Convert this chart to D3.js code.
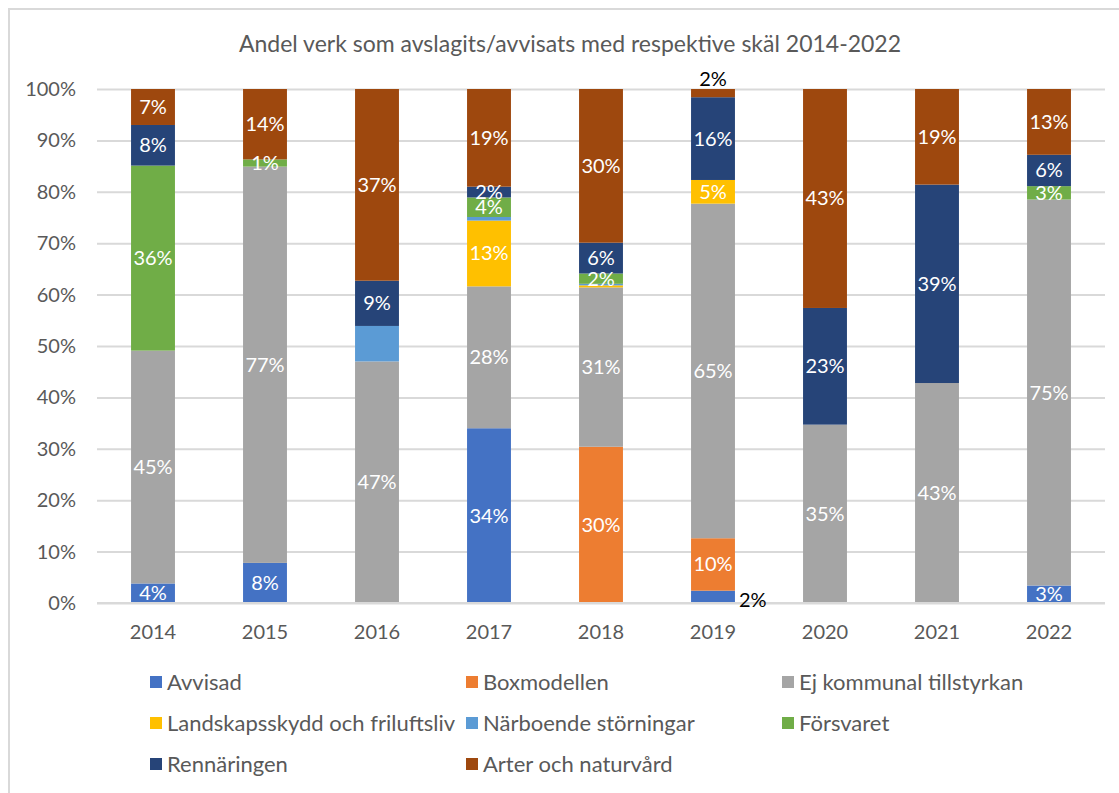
<!DOCTYPE html>
<html lang="sv">
<head>
<meta charset="UTF-8">
<title>Andel verk som avslagits/avvisats</title>
<script src="https://cdn.jsdelivr.net/npm/d3@7"></script>
<style>
  body { margin: 0; background: #fff; }
  text { font-family: Lato, "Open Sans", sans-serif; }
</style>
</head>
<body>
<script>
// years on the x axis
var years = ["2014","2015","2016","2017","2018","2019","2020","2021","2022"];

// series, share in percent per year
var seriesNames = ["Avvisad","Boxmodellen","Ej kommunal tillstyrkan","Landskapsskydd och friluftsliv",
                   "Närboende störningar","Försvaret","Rennäringen","Arter och naturvård"];
var avvisad     = [3.8, 7.8, 0, 34.0, 0, 2.4, 0, 0, 3.4];
var boxmodellen = [0, 0, 0, 0, 30.4, 10.2, 0, 0, 0];
var ejKommunal  = [45.3, 77.1, 47.0, 27.6, 31.0, 65.1, 34.7, 42.8, 75.1];
var landskap    = [0, 0, 0, 12.8, 0.4, 4.6, 0, 0, 0];
var narboende   = [0, 0, 6.9, 0.7, 0.3, 0, 0, 0, 0];
var forsvaret   = [36.0, 1.4, 0, 3.8, 2.0, 0, 0, 0, 2.6];
var renn        = [7.9, 0, 8.8, 2.1, 6.0, 16.1, 22.7, 38.6, 6.1];
var arter       = [7.0, 13.7, 37.3, 19.0, 29.9, 1.6, 42.6, 18.6, 12.8];
var colors = ["#4472C4","#ED7D31","#A5A5A5","#FFC000","#5B9BD5","#70AD47","#264478","#9E480E"];
var yTicks = [0,0.1,0.2,0.3,0.4,0.5,0.6,0.7,0.8,0.9,1];

// series without labels, and labels that sit outside the bar (black)
var noLabelSeries = ["Närboende störningar"];
var labelAbove = [["2019","Arter och naturvård"]];
var labelRight = [["2019","Avvisad"]];

var allValues = [avvisad, boxmodellen, ejKommunal, landskap, narboende, forsvaret, renn, arter];
var rows = years.map(function (y, i) {
    var r = {year: y};
    seriesNames.forEach(function (s, k) { r[s] = allValues[k][i]; });
    return r;
});

var width = 1119, height = 793;
var svg = d3.select("body").append("svg")
    .attr("width", width)
    .attr("height", height);

// chart frame
svg.append("rect")
    .attr("x", 9).attr("y", 9)
    .attr("width", width + 20).attr("height", height + 20)
    .attr("fill", "#fff")
    .attr("stroke", "#d9d9d9")
    .attr("stroke-width", 2);

var x = d3.scaleBand().domain(years).range([97, 1105])
    .paddingInner(0.608).paddingOuter(0.304);
var y = d3.scaleLinear().domain([0, 1]).range([603, 89]);

// title
svg.append("text")
    .attr("x", 570).attr("y", 52)
    .attr("text-anchor", "middle")
    .attr("font-size", "23px")
    .attr("fill", "#595959")
    .text("Andel verk som avslagits/avvisats med respektive skäl 2014-2022");

// gridlines + y labels
var yAxis = d3.axisLeft(y).tickValues(yTicks).tickFormat(d3.format(".0%"))
    .tickSize(-(1105 - 97)).tickPadding(21);
var gy = svg.append("g").attr("transform", "translate(97,0)").call(yAxis);
gy.select(".domain").remove();
gy.selectAll("line").attr("stroke", "#d9d9d9").attr("stroke-width", 2);
gy.selectAll("text").attr("fill", "#595959").attr("font-size", "20px")
    .attr("font-family", "Lato, sans-serif");

// stacked bars
var stack = d3.stack().keys(seriesNames).offset(d3.stackOffsetExpand);
var layers = stack(rows);

var g = svg.selectAll("g.layer")
    .data(layers)
    .enter().append("g")
    .attr("class", "layer")
    .attr("fill", function (d, i) { return colors[i]; });

g.selectAll("rect")
    .data(function (d) { return d; })
    .enter().append("rect")
    .attr("x", function (d) { return x(d.data.year); })
    .attr("y", function (d) { return y(d[1]); })
    .attr("width", x.bandwidth())
    .attr("height", function (d) { return y(d[0]) - y(d[1]); });

// x axis line drawn on top of bars
svg.append("line")
    .attr("x1", 97).attr("x2", 1105)
    .attr("y1", y(0)).attr("y2", y(0))
    .attr("stroke", "#d9d9d9").attr("stroke-width", 2);

// year labels
var xAxis = d3.axisBottom(x).tickSize(0).tickPadding(22);
var gx = svg.append("g").attr("transform", "translate(0," + y(0) + ")").call(xAxis);
gx.select(".domain").remove();
gx.selectAll("text").attr("fill", "#595959").attr("font-size", "20px")
    .attr("font-family", "Lato, sans-serif");

// data labels
function isIn(list, year, key) {
    return list.some(function (p) { return p[0] === year && p[1] === key; });
}
layers.forEach(function (layer) {
    if (noLabelSeries.indexOf(layer.key) >= 0) return;
    layer.forEach(function (d) {
        var v = d[1] - d[0];
        var pct = Math.round(v * 100);
        if (pct < 1) return;
        var year = d.data.year;
        var cx = x(year) + x.bandwidth() / 2;
        var cy = (y(d[0]) + y(d[1])) / 2;
        var fill = "#fff", anchor = "middle";
        if (isIn(labelAbove, year, layer.key)) {
            cy = y(d[1]) - 10; fill = "#000";
        } else if (isIn(labelRight, year, layer.key)) {
            cx = x(year) + x.bandwidth() + 4; cy = y(d[0]) - 3; fill = "#000"; anchor = "start";
        }
        svg.append("text")
            .attr("x", cx).attr("y", cy)
            .attr("dy", "0.35em")
            .attr("text-anchor", anchor)
            .attr("font-size", "20px")
            .attr("fill", fill)
            .text(pct + "%");
    });
});

// legend, 3 columns
var legend = svg.selectAll("g.legend")
    .data(seriesNames)
    .enter().append("g")
    .attr("class", "legend")
    .attr("transform", function (d, i) {
        return "translate(" + (150 + (i % 3) * 316) + "," + (682 + Math.floor(i / 3) * 41) + ")";
    });
legend.append("rect")
    .attr("x", 0).attr("y", -6)
    .attr("width", 12).attr("height", 12)
    .attr("fill", function (d, i) { return colors[i]; });
legend.append("text")
    .attr("x", 17).attr("y", 0)
    .attr("dy", "0.35em")
    .attr("font-size", "22px")
    .attr("fill", "#595959")
    .text(function (d) { return d; });
</script>
</body>
</html>
